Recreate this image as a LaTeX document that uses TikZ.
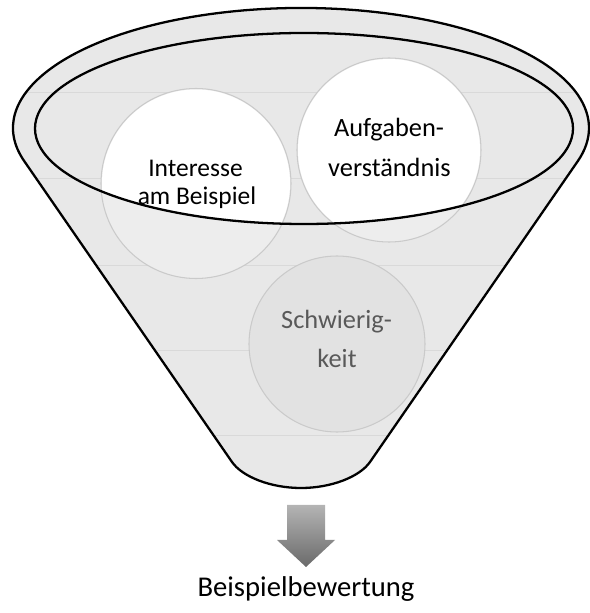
\documentclass[tikz,border=0pt]{standalone}
\usepackage{fontspec}
\setmainfont{Carlito}
\usepackage{tikz}
\usetikzlibrary{backgrounds}
\definecolor{funnelgray}{HTML}{E8E8E8}
\definecolor{ballgray}{HTML}{EDEDED}
\definecolor{ballgraydark}{HTML}{E2E2E2}
\definecolor{ballrim}{HTML}{CACACA}
\definecolor{gridgray}{HTML}{D9D9D9}
\definecolor{textgray}{HTML}{595959}
\definecolor{arrowtop}{HTML}{B4B4B4}
\definecolor{arrowbottom}{HTML}{6A6A6A}
\tikzset{
  ball/.style={circle, draw=ballrim, line width=0.6pt, inner sep=0pt},
  balltext/.style={anchor=base, inner sep=0pt, font=\fontsize{15}{18}\selectfont},
  rim/.style={black, line width=1.3pt}
}

\begin{document}
\begin{tikzpicture}
\useasboundingbox (0cm,0cm) rectangle (11.8cm,12.26cm);

\begin{scope}
\clip (0.481cm,9.043cm) arc[start angle=195.9, end angle=-15.9, x radius=5.76cm, y radius=2.40cm] -- (7.40cm,3.02cm) .. controls (7.19cm,2.72cm) and (6.62cm,2.50cm) .. (6.02cm,2.50cm) .. controls (5.42cm,2.50cm) and (4.85cm,2.72cm) .. (4.64cm,3.02cm) -- cycle;
\fill [funnelgray] (0cm,0cm) rectangle (11.8cm,12.26cm);
\foreach \y in {10.42,8.70,6.96,5.26,3.56}
  \draw [gridgray, line width=0.4pt] (0cm,\y cm) -- (11.8cm,\y cm);
\end{scope}

\node [ball, fill=ballgray, minimum size=3.80cm] (interesse) at (3.92cm,8.59cm) {};
\node [ball, fill=ballgray, minimum size=3.68cm] (aufgaben) at (7.78cm,9.26cm) {};
\node [ball, fill=ballgraydark, minimum size=3.52cm] (schwierigkeit) at (6.74cm,5.38cm) {};

\begin{scope}
\clip (6.08cm,9.69cm) ellipse [x radius=5.38cm, y radius=1.91cm];
\fill [white] (interesse.center) circle [radius=1.88cm];
\fill [white] (aufgaben.center) circle [radius=1.82cm];
\end{scope}

\draw [rim] (0.481cm,9.043cm) arc[start angle=195.9, end angle=-15.9, x radius=5.76cm, y radius=2.40cm] -- (7.40cm,3.02cm) .. controls (7.19cm,2.72cm) and (6.62cm,2.50cm) .. (6.02cm,2.50cm) .. controls (5.42cm,2.50cm) and (4.85cm,2.72cm) .. (4.64cm,3.02cm) -- cycle;
\draw [rim] (6.08cm,9.69cm) ellipse [x radius=5.38cm, y radius=1.91cm];

\node [balltext, font=\fontsize{14.5}{17}\selectfont] (interesse-a) at (3.91cm,8.726cm) {Interesse};
\node [balltext, font=\fontsize{14.5}{17}\selectfont] (interesse-b) at (3.94cm,8.16cm) {am Beispiel};
\node [balltext] (aufgaben-a) at (7.78cm,9.526cm) {Aufgaben-};
\node [balltext] (aufgaben-b) at (7.79cm,8.726cm) {verständnis};
\node [balltext, text=textgray] (schwierigkeit-a) at (6.73cm,5.68cm) {Schwierig-};
\node [balltext, text=textgray] (schwierigkeit-b) at (6.74cm,4.90cm) {keit};

\shade [top color=arrowtop, bottom color=arrowbottom] (5.74cm,2.16cm) -- (6.50cm,2.16cm) -- (6.50cm,1.46cm) -- (6.70cm,1.46cm) -- (6.12cm,0.92cm) -- (5.54cm,1.46cm) -- (5.74cm,1.46cm) -- cycle;

\node [anchor=base, inner sep=0pt, font=\fontsize{16.3}{19}\selectfont] (bewertung) at (6.12cm,0.32cm) {Beispielbewertung};

\end{tikzpicture}
\end{document}
